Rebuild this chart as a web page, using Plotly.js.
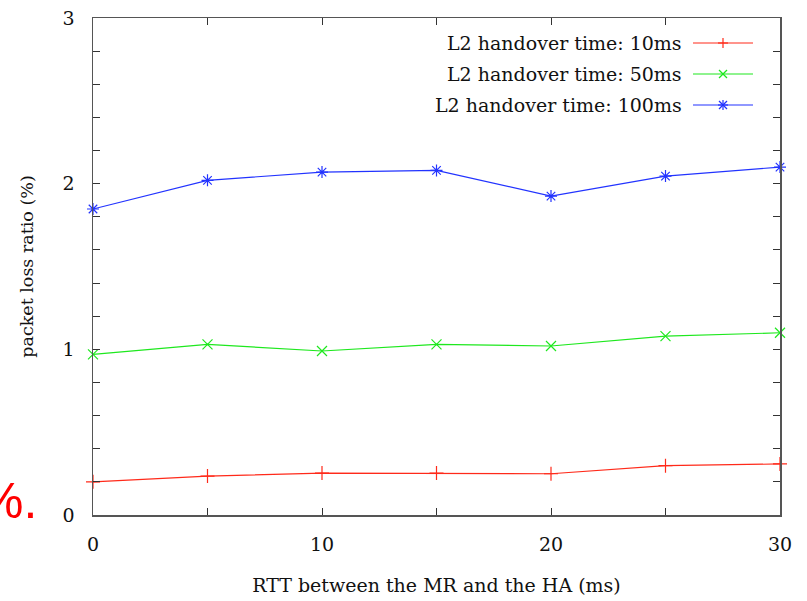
<!DOCTYPE html>
<html>
<head>
<meta charset="utf-8">
<script src="https://cdn.plot.ly/plotly-3.0.1.min.js"></script>
<style>html,body{margin:0;padding:0;background:#fff;}#chart{width:807px;height:601px;}</style>
</head>
<body>
<div id="chart"></div>
<script>
const rtt = [0, 5, 10, 15, 20, 25, 30];
const loss10ms = [0.20, 0.235, 0.253, 0.253, 0.249, 0.298, 0.308];
const loss50ms = [0.97, 1.03, 0.99, 1.03, 1.02, 1.08, 1.10];
const loss100ms = [1.847, 2.02, 2.07, 2.08, 1.925, 2.046, 2.10];
const seriesNames = ['L2 handover time: 10ms', 'L2 handover time: 50ms', 'L2 handover time: 100ms'];
const colors = ['#ff2a1a', '#1ee81e', '#2233ff'];
const symbols = ['cross-thin', 'x-thin', 'asterisk'];
const xTicks = [0, 10, 20, 30];
const yTicks = [0, 1, 2, 3];

const series = [loss10ms, loss50ms, loss100ms];
const serif = 'DejaVu Serif, Liberation Serif, serif';
const FS = 19;

const traces = series.map((ys, i) => ({
  x: rtt, y: ys, type: 'scatter', mode: 'lines+markers', name: seriesNames[i],
  line: {color: colors[i], width: 1.2},
  marker: {symbol: symbols[i], size: 10, line: {color: colors[i], width: 1.2}, color: colors[i]},
  cliponaxis: false, showlegend: false
}));

// custom legend (text right, sample on right like gnuplot)
const rowsY = [43, 74, 105];
const plotTop = 18, plotBottom = 515, plotLeft = 93, plotRight = 780;
const py = v => 1 - (v - plotTop) / (plotBottom - plotTop);
const px = v => (v - plotLeft) / (plotRight - plotLeft);
const annotations = [];
const shapes = [];
seriesNames.forEach((n, i) => {
  annotations.push({xref: 'paper', yref: 'paper', x: px(684), y: py(rowsY[i]), xanchor: 'right', yanchor: 'middle',
    text: n, showarrow: false, font: {family: serif, size: FS, color: '#111'}});
  shapes.push({type: 'line', xref: 'paper', yref: 'paper', x0: px(693), x1: px(753), y0: py(rowsY[i]), y1: py(rowsY[i]),
    line: {color: colors[i], width: 1.2}});
  const cx = px(723), cy = py(rowsY[i]);
  const segs = [];
  if (i === 0) { segs.push([0, -5, 0, 5], [-5, 0, 5, 0]); }
  if (i === 1) { segs.push([-4, -4, 4, 4], [-4, 4, 4, -4]); }
  if (i === 2) { segs.push([0, -5, 0, 5], [-4, -4, 4, 4], [-4, 4, 4, -4], [-5, 0, 5, 0]); }
  segs.forEach(s => shapes.push({type: 'line', xref: 'paper', yref: 'paper', xsizemode: 'pixel', ysizemode: 'pixel',
    xanchor: cx, yanchor: cy, x0: s[0], y0: s[1], x1: s[2], y1: s[3], line: {color: colors[i], width: 1.2}}));
});
annotations.push({xref: 'paper', yref: 'paper', x: px(39), y: py(501), xanchor: 'right', yanchor: 'middle',
  text: '%.', showarrow: false, font: {family: 'Liberation Sans, Arial, sans-serif', size: 50, color: '#ff0000'}});

const layout = {
  width: 807, height: 601,
  margin: {l: 93, r: 27, t: 18, b: 86},
  paper_bgcolor: '#fff', plot_bgcolor: '#fff',
  showlegend: false,
  font: {family: serif, size: FS, color: '#111'},
  xaxis: {
    range: [0, 30], tickvals: xTicks, ticktext: xTicks.map(String),
    ticks: 'inside', ticklen: 7, tickcolor: '#333', tickwidth: 1,
    minor: {dtick: 5, tick0: 0, ticks: 'inside', ticklen: 7, tickcolor: '#333'},
    showline: true, linecolor: '#555', linewidth: 1.5, mirror: 'ticks',
    showgrid: false, zeroline: false, ticklabelstandoff: 12,
    tickfont: {family: serif, size: FS, color: '#111'},
    title: {text: 'RTT between the MR and the HA (ms)', font: {family: serif, size: FS, color: '#111'}, standoff: 24}
  },
  yaxis: {
    range: [0, 3], tickvals: yTicks, ticktext: yTicks.map(String),
    ticks: 'inside', ticklen: 7, tickcolor: '#333', tickwidth: 1,
    minor: {dtick: 0.2, tick0: 0, ticks: 'inside', ticklen: 7, tickcolor: '#333'},
    showline: true, linecolor: '#555', linewidth: 1.5, mirror: 'ticks',
    showgrid: false, zeroline: false, ticklabelstandoff: 13,
    tickfont: {family: serif, size: FS, color: '#111'},
    title: {text: 'packet loss ratio (%)', font: {family: serif, size: 17.5, color: '#111'}, standoff: 24}
  },
  annotations: annotations,
  shapes: shapes
};
Plotly.newPlot('chart', traces, layout, {displayModeBar: false, staticPlot: true});
</script>
</body>
</html>
